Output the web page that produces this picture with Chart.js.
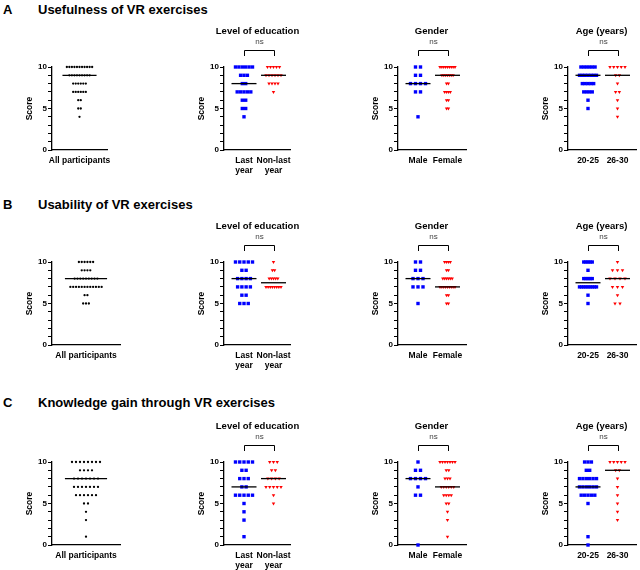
<!DOCTYPE html>
<html>
<head>
<meta charset="utf-8">
<script src="https://cdn.jsdelivr.net/npm/chart.js@4.4.0/dist/chart.umd.min.js"></script>
<style>
  body { margin: 0; background: #fff; width: 640px; height: 570px; position: relative; overflow: hidden;
         font-family: 'Liberation Sans', Arial, sans-serif; }
  .row-title { position: absolute; font-weight: bold; font-size: 13px; line-height: 15px; white-space: nowrap; }
  canvas { position: absolute; }
</style>
</head>
<body>
<script>
const scores = [10, 9, 8, 7, 6, 5, 4, 3, 2, 1, 0]

const rowLetters = ['A', 'B', 'C']
const rowTitles = ['Usefulness of VR exercises', 'Usability of VR exercises', 'Knowledge gain through VR exercises']
const panelTitles = ['', 'Level of education', 'Gender', 'Age (years)']
const groupLabels = [
  ['All participants'],
  [['Last', 'year'], ['Non-last', 'year']],
  ['Male', 'Female'],
  ['20-25', '26-30']
]

// number of participants at each score (same order as `scores`)
// A - usefulness
const useAll      = [11, 9, 6, 6, 2, 2, 1, 0, 0, 0, 0]
const useLastYear = [6, 3, 2, 5, 2, 2, 1, 0, 0, 0, 0]
const useNonLast  = [5, 6, 4, 1, 0, 0, 0, 0, 0, 0, 0]
const useMale     = [2, 2, 4, 2, 0, 0, 1, 0, 0, 0, 0]
const useFemale   = [9, 7, 2, 4, 2, 2, 0, 0, 0, 0, 0]
const useAge2025  = [6, 7, 5, 4, 1, 1, 0, 0, 0, 0, 0]
const useAge2630  = [5, 2, 1, 2, 1, 1, 1, 0, 0, 0, 0]
// B - usability
const usaAll      = [6, 4, 9, 12, 2, 3, 0, 0, 0, 0, 0]
const usaLastYear = [5, 2, 4, 4, 2, 3, 0, 0, 0, 0, 0]
const usaNonLast  = [1, 2, 5, 8, 0, 0, 0, 0, 0, 0, 0]
const usaMale     = [2, 2, 3, 3, 0, 1, 0, 0, 0, 0, 0]
const usaFemale   = [4, 2, 6, 9, 2, 2, 0, 0, 0, 0, 0]
const usaAge2025  = [5, 1, 5, 9, 1, 1, 0, 0, 0, 0, 0]
const usaAge2630  = [1, 3, 4, 3, 1, 2, 0, 0, 0, 0, 0]
// C - knowledge gain
const knoAll      = [8, 4, 7, 7, 6, 2, 1, 1, 0, 1, 0]
const knoLastYear = [5, 2, 3, 2, 5, 1, 1, 1, 0, 1, 0]
const knoNonLast  = [3, 2, 4, 5, 1, 1, 0, 0, 0, 0, 0]
const knoMale     = [1, 2, 4, 1, 2, 0, 0, 0, 0, 0, 1]
const knoFemale   = [7, 2, 3, 6, 4, 2, 1, 1, 0, 1, 0]
const knoAge2025  = [3, 2, 6, 6, 5, 1, 0, 0, 0, 1, 1]
const knoAge2630  = [5, 2, 1, 1, 1, 1, 1, 1, 0, 0, 0]

const rowData = [
  [[useAll], [useLastYear, useNonLast], [useMale, useFemale], [useAge2025, useAge2630]],
  [[usaAll], [usaLastYear, usaNonLast], [usaMale, usaFemale], [usaAge2025, usaAge2630]],
  [[knoAll], [knoLastYear, knoNonLast], [knoMale, knoFemale], [knoAge2025, knoAge2630]]
]

const FONT = "'Liberation Sans', Arial, sans-serif"
Chart.defaults.font.family = FONT
Chart.defaults.color = '#000'

// layout (pixels)
const rowTop = [2, 197, 395]
const rowY10 = [67, 262, 462]
const plotH = 83
const colAxisX = [52, 224, 398, 568]
const groupGap = 29.5

const dot = { style: 'circle', color: '#000', radius: 1.15, rotation: 0, cap: 4 }
const square = { style: 'rect', color: '#0000ff', radius: 2.4, rotation: 0, span: 17, cap: 5 }
const tri = { style: 'triangle', color: '#ff0000', radius: 2, rotation: 180, span: 15, cap: 6 }

function spread(counts, center, unitsPerPx, marker, span) {
  const maxN = Math.max(...counts)
  const gap = Math.min(marker.cap, span / Math.max(maxN - 1, 1))
  const pts = []
  counts.forEach((n, i) => {
    for (let k = 0; k < n; k++) {
      pts.push({ x: center + (k - (n - 1) / 2) * gap * unitsPerPx, y: scores[i] })
    }
  })
  return pts
}

function median(counts) {
  const vals = []
  counts.forEach((n, i) => { for (let k = 0; k < n; k++) vals.push(scores[i]) })
  vals.sort((a, b) => a - b)
  const m = vals.length
  return m % 2 ? vals[(m - 1) / 2] : (vals[m / 2 - 1] + vals[m / 2]) / 2
}

const panelDecor = {
  id: 'panelDecor',
  afterDraw(chart, args, opts) {
    if (!opts.title) return
    const { ctx, chartArea: { top } } = chart
    const xs = chart.scales.x
    const x1 = Math.round(xs.getPixelForValue(1)) + 0.5
    const x2 = Math.round(xs.getPixelForValue(2)) + 0.5
    ctx.save()
    ctx.fillStyle = '#000'
    ctx.font = 'bold 9.5px ' + FONT
    ctx.textAlign = 'center'
    ctx.textBaseline = 'alphabetic'
    ctx.fillText(opts.title, (x1 + x2) / 2 - 2, top - 33)
    ctx.fillStyle = '#444'
    ctx.font = '8px ' + FONT
    ctx.textBaseline = 'middle'
    ctx.fillText('ns', (x1 + x2) / 2, top - 25)
    ctx.strokeStyle = '#000'
    ctx.lineWidth = 1
    const yb = Math.round(top - 17.5) + 0.5
    ctx.beginPath()
    ctx.moveTo(x1, top - 11)
    ctx.lineTo(x1, yb)
    ctx.lineTo(x2, yb)
    ctx.lineTo(x2, top - 11)
    ctx.stroke()
    ctx.restore()
  }
}

rowLetters.forEach((letter, r) => {
  const l = document.createElement('div')
  l.className = 'row-title'
  l.style.left = '3px'
  l.style.top = rowTop[r] + 'px'
  l.textContent = letter
  document.body.appendChild(l)
  const t = document.createElement('div')
  t.className = 'row-title'
  t.style.left = '38px'
  t.style.top = rowTop[r] + 'px'
  t.textContent = rowTitles[r]
  document.body.appendChild(t)

  rowData[r].forEach((series, c) => {
    const single = series.length === 1
    const plotW = single ? (r === 0 ? 55 : 68) : (c === 1 ? 66 : 68)
    const pxPerUnit = single ? plotW : groupGap
    const xMin = single ? 0.5 : 1 - 20 / groupGap
    const xMax = xMin + plotW / pxPerUnit
    const halfLine = single ? 0.31 : 12.5 / groupGap
    const labels = groupLabels[c]

    const datasets = []
    series.forEach((counts, g) => {
      const marker = single ? dot : (g === 0 ? square : tri)
      const span = single ? 0.46 * plotW : marker.span
      datasets.push({
        data: spread(counts, g + 1, 1 / pxPerUnit, marker, span),
        pointStyle: marker.style,
        pointRadius: marker.radius,
        pointRotation: marker.rotation,
        pointBackgroundColor: marker.color,
        pointBorderWidth: 0,
        clip: false,
        order: 1
      })
      const m = median(counts)
      datasets.push({
        data: [{ x: g + 1 - halfLine, y: m }, { x: g + 1 + halfLine, y: m }],
        showLine: true,
        borderColor: '#000',
        borderWidth: 1.3,
        pointRadius: 0,
        clip: false,
        order: 0
      })
    })

    const padTop = 45, left = 40, right = 24, bottom = 32
    const W = left + plotW + right
    const H = padTop + plotH + bottom
    const cv = document.createElement('canvas')
    cv.width = W
    cv.height = H
    cv.style.width = W + 'px'
    cv.style.height = H + 'px'
    cv.style.left = (colAxisX[c] - left) + 'px'
    cv.style.top = (rowY10[r] - padTop) + 'px'
    document.body.appendChild(cv)

    new Chart(cv, {
      type: 'scatter',
      data: { datasets },
      plugins: [panelDecor],
      options: {
        responsive: false,
        animation: false,
        devicePixelRatio: 1,
        events: [],
        layout: { padding: { left: left - 27, top: padTop, right: right, bottom: 0 } },
        plugins: {
          legend: { display: false },
          tooltip: { enabled: false },
          panelDecor: { title: panelTitles[c] }
        },
        scales: {
          x: {
            type: 'linear',
            min: xMin,
            max: xMax,
            afterBuildTicks: s => { s.ticks = labels.map((_, i) => ({ value: i + 1 })) },
            afterFit: s => { s.height = bottom },
            grid: { display: false, drawTicks: false },
            border: { color: '#000', width: 1.3 },
            ticks: {
              callback: (v, i) => labels[i],
              autoSkip: false,
              maxRotation: 0,
              padding: 5,
              color: '#000',
              font: { size: 8.5, weight: 'bold', lineHeight: 1.25 }
            }
          },
          y: {
            min: 0,
            max: 10,
            afterFit: s => { s.width = 27 },
            grid: { drawOnChartArea: false, tickLength: 4, tickColor: '#000', tickWidth: 1 },
            border: { color: '#000', width: 1.3 },
            ticks: {
              stepSize: 1,
              autoSkip: false,
              padding: 1,
              color: '#000',
              callback: v => (v % 5 === 0 ? v : ''),
              font: { size: 8, weight: 'bold' }
            },
            title: {
              display: true,
              text: 'Score',
              color: '#000',
              padding: 0,
              font: { size: 8.5, weight: 'bold' }
            }
          }
        }
      }
    })
  })
})
</script>
</body>
</html>
